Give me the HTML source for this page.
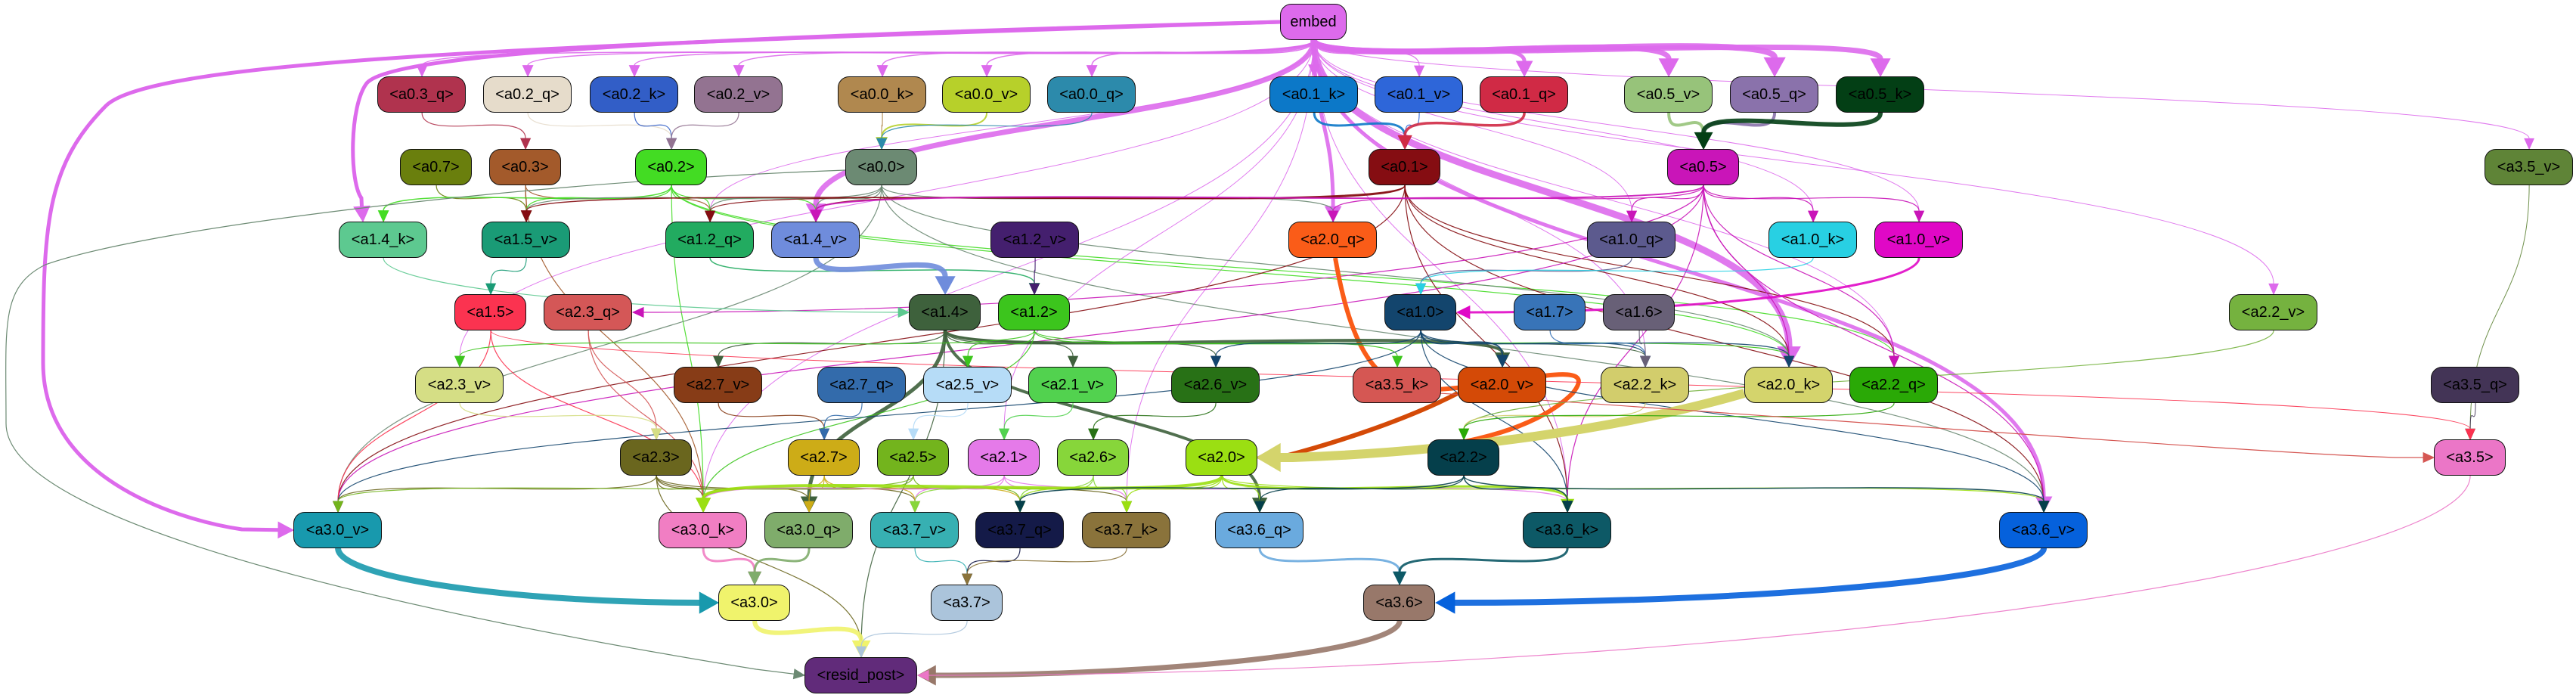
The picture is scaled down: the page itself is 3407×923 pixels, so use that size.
<!DOCTYPE html>
<html><head><meta charset="utf-8"><style>
html,body{margin:0;padding:0;background:#fff;}
#wrap{position:relative;width:3407px;height:923px;overflow:hidden;background:#fff;}
svg{position:absolute;left:0;top:0;}
.n{position:absolute;height:46px;border:1.6px solid #111;border-radius:15px;box-sizing:content-box;display:flex;align-items:center;justify-content:center;font-family:"Liberation Sans",sans-serif;font-size:20px;color:#000;white-space:nowrap;}
</style></head><body><div id="wrap">
<svg id="s" width="3407" height="923" viewBox="0 0 3407 923"></svg>
<div class="n" style="left:1693px;top:5px;width:86px;background:#dd6aec">embed</div>
<div class="n" style="left:499px;top:101px;width:115px;background:#b0334e">&lt;a0.3_q&gt;</div>
<div class="n" style="left:639px;top:101px;width:115px;background:#e6dccb">&lt;a0.2_q&gt;</div>
<div class="n" style="left:780px;top:101px;width:115px;background:#325ec7">&lt;a0.2_k&gt;</div>
<div class="n" style="left:918px;top:101px;width:115px;background:#937391">&lt;a0.2_v&gt;</div>
<div class="n" style="left:1108px;top:101px;width:115px;background:#b0884f">&lt;a0.0_k&gt;</div>
<div class="n" style="left:1246px;top:101px;width:115px;background:#b7d02a">&lt;a0.0_v&gt;</div>
<div class="n" style="left:1385px;top:101px;width:115px;background:#2c8aab">&lt;a0.0_q&gt;</div>
<div class="n" style="left:1679px;top:101px;width:115px;background:#0c78c8">&lt;a0.1_k&gt;</div>
<div class="n" style="left:1818px;top:101px;width:115px;background:#2e66d9">&lt;a0.1_v&gt;</div>
<div class="n" style="left:1957px;top:101px;width:115px;background:#d02a45">&lt;a0.1_q&gt;</div>
<div class="n" style="left:2148px;top:101px;width:115px;background:#97c37a">&lt;a0.5_v&gt;</div>
<div class="n" style="left:2288px;top:101px;width:115px;background:#8a72ab">&lt;a0.5_q&gt;</div>
<div class="n" style="left:2428px;top:101px;width:115px;background:#033f15">&lt;a0.5_k&gt;</div>
<div class="n" style="left:529px;top:197px;width:93px;background:#6a7f0d">&lt;a0.7&gt;</div>
<div class="n" style="left:647px;top:197px;width:93px;background:#a35a2b">&lt;a0.3&gt;</div>
<div class="n" style="left:840px;top:197px;width:93px;background:#43dc23">&lt;a0.2&gt;</div>
<div class="n" style="left:1118px;top:197px;width:93px;background:#6c8a73">&lt;a0.0&gt;</div>
<div class="n" style="left:1810px;top:197px;width:93px;background:#850d12">&lt;a0.1&gt;</div>
<div class="n" style="left:2205px;top:197px;width:93px;background:#c915b8">&lt;a0.5&gt;</div>
<div class="n" style="left:3286px;top:197px;width:115px;background:#5f8437">&lt;a3.5_v&gt;</div>
<div class="n" style="left:448px;top:293px;width:115px;background:#5dc990">&lt;a1.4_k&gt;</div>
<div class="n" style="left:637px;top:293px;width:115px;background:#1a9b76">&lt;a1.5_v&gt;</div>
<div class="n" style="left:880px;top:293px;width:115px;background:#22ab60">&lt;a1.2_q&gt;</div>
<div class="n" style="left:1020px;top:293px;width:115px;background:#6f8cdc">&lt;a1.4_v&gt;</div>
<div class="n" style="left:1310px;top:293px;width:115px;background:#441f6e">&lt;a1.2_v&gt;</div>
<div class="n" style="left:1704px;top:293px;width:115px;background:#fa5c18">&lt;a2.0_q&gt;</div>
<div class="n" style="left:2099px;top:293px;width:115px;background:#5c5a8e">&lt;a1.0_q&gt;</div>
<div class="n" style="left:2339px;top:293px;width:115px;background:#28d0e3">&lt;a1.0_k&gt;</div>
<div class="n" style="left:2479px;top:293px;width:115px;background:#e008c6">&lt;a1.0_v&gt;</div>
<div class="n" style="left:601px;top:389px;width:93px;background:#fb3350">&lt;a1.5&gt;</div>
<div class="n" style="left:719px;top:389px;width:115px;background:#d45757">&lt;a2.3_q&gt;</div>
<div class="n" style="left:1202px;top:389px;width:93px;background:#3e613c">&lt;a1.4&gt;</div>
<div class="n" style="left:1320px;top:389px;width:93px;background:#3cc51d">&lt;a1.2&gt;</div>
<div class="n" style="left:1831px;top:389px;width:93px;background:#13456d">&lt;a1.0&gt;</div>
<div class="n" style="left:2002px;top:389px;width:93px;background:#3874b8">&lt;a1.7&gt;</div>
<div class="n" style="left:2120px;top:389px;width:93px;background:#686077">&lt;a1.6&gt;</div>
<div class="n" style="left:2948px;top:389px;width:115px;background:#75b23f">&lt;a2.2_v&gt;</div>
<div class="n" style="left:549px;top:485px;width:115px;background:#d5de85">&lt;a2.3_v&gt;</div>
<div class="n" style="left:891px;top:485px;width:115px;background:#873c17">&lt;a2.7_v&gt;</div>
<div class="n" style="left:1081px;top:485px;width:115px;background:#336bab">&lt;a2.7_q&gt;</div>
<div class="n" style="left:1221px;top:485px;width:115px;background:#b6dcf7">&lt;a2.5_v&gt;</div>
<div class="n" style="left:1360px;top:485px;width:115px;background:#52d24f">&lt;a2.1_v&gt;</div>
<div class="n" style="left:1549px;top:485px;width:115px;background:#287116">&lt;a2.6_v&gt;</div>
<div class="n" style="left:1789px;top:485px;width:115px;background:#d55753">&lt;a3.5_k&gt;</div>
<div class="n" style="left:1928px;top:485px;width:115px;background:#d44a07">&lt;a2.0_v&gt;</div>
<div class="n" style="left:2117px;top:485px;width:115px;background:#d2cd6c">&lt;a2.2_k&gt;</div>
<div class="n" style="left:2307px;top:485px;width:115px;background:#d4d46c">&lt;a2.0_k&gt;</div>
<div class="n" style="left:2446px;top:485px;width:115px;background:#2aa906">&lt;a2.2_q&gt;</div>
<div class="n" style="left:3215px;top:485px;width:115px;background:#433456">&lt;a3.5_q&gt;</div>
<div class="n" style="left:820px;top:581px;width:93px;background:#6a661e">&lt;a2.3&gt;</div>
<div class="n" style="left:1042px;top:581px;width:93px;background:#cdac17">&lt;a2.7&gt;</div>
<div class="n" style="left:1160px;top:581px;width:93px;background:#73b41d">&lt;a2.5&gt;</div>
<div class="n" style="left:1280px;top:581px;width:93px;background:#e57ae9">&lt;a2.1&gt;</div>
<div class="n" style="left:1398px;top:581px;width:93px;background:#87d63a">&lt;a2.6&gt;</div>
<div class="n" style="left:1568px;top:581px;width:93px;background:#9bdf12">&lt;a2.0&gt;</div>
<div class="n" style="left:1888px;top:581px;width:93px;background:#053f4b">&lt;a2.2&gt;</div>
<div class="n" style="left:3219px;top:581px;width:93px;background:#eb76c7">&lt;a3.5&gt;</div>
<div class="n" style="left:388px;top:677px;width:115px;background:#1899ad">&lt;a3.0_v&gt;</div>
<div class="n" style="left:871px;top:677px;width:115px;background:#f17ec3">&lt;a3.0_k&gt;</div>
<div class="n" style="left:1011px;top:677px;width:115px;background:#7fac6b">&lt;a3.0_q&gt;</div>
<div class="n" style="left:1151px;top:677px;width:115px;background:#37b0b2">&lt;a3.7_v&gt;</div>
<div class="n" style="left:1290px;top:677px;width:115px;background:#141a48">&lt;a3.7_q&gt;</div>
<div class="n" style="left:1431px;top:677px;width:115px;background:#8a733b">&lt;a3.7_k&gt;</div>
<div class="n" style="left:1607px;top:677px;width:115px;background:#6aaade">&lt;a3.6_q&gt;</div>
<div class="n" style="left:2014px;top:677px;width:115px;background:#0d5966">&lt;a3.6_k&gt;</div>
<div class="n" style="left:2644px;top:677px;width:115px;background:#0561dc">&lt;a3.6_v&gt;</div>
<div class="n" style="left:950px;top:773px;width:93px;background:#f0f36c">&lt;a3.0&gt;</div>
<div class="n" style="left:1231px;top:773px;width:93px;background:#abc4db">&lt;a3.7&gt;</div>
<div class="n" style="left:1803px;top:773px;width:93px;background:#98786a">&lt;a3.6&gt;</div>
<div class="n" style="left:1064px;top:869px;width:147px;background:#612b7a">&lt;resid_post&gt;</div>
</div>
<script>
(function(){
var N={};
document.querySelectorAll('.n').forEach(function(d){
 var t=d.textContent.replace(/[<>]/g,'');
 var l=parseFloat(d.style.left),tp=parseFloat(d.style.top),w=parseFloat(d.style.width);
 N[t]={x:l+w/2+1.6,y:tp+24,w:w+3,c:d.style.backgroundColor};
});
var s=document.getElementById('s'),NS='http://www.w3.org/2000/svg';
function add(tag,at){var e=document.createElementNS(NS,tag);for(var k in at)e.setAttribute(k,at[k]);s.appendChild(e);return e;}
function arrow(px,py,ex,ey,c,w){
 var dx=ex-px,dy=ey-py,L=Math.hypot(dx,dy)||1;dx/=L;dy/=L;
 var al=12+w*1.6,hw=5+w*1.1;
 var bx=ex-dx*al,by=ey-dy*al;
 add('polygon',{points:ex+','+ey+' '+(bx-dy*hw)+','+(by+dx*hw)+' '+(bx+dy*hw)+','+(by-dx*hw),fill:c,stroke:c,'stroke-width':1});
 return [bx,by];
}
function E(a,b,w,c,side){
 var A=N[a],B=N[b];c=c||A.c;w=w||1.2;
 var sx=A.x,sy=A.y+24,ex,ey,c2x,c2y,px,py;
 if(side=='l'||side=='r'){
  ex=B.x+(side=='l'?-B.w/2:B.w/2);ey=B.y;
  var off=(side=='l'?-1:1);
  px=ex+off*60;py=ey;
 } else {ex=B.x;ey=B.y-24;px=ex;py=ey-40;}
 var ab=arrow(px,py,ex,ey,c,w);
 var dy=Math.max(40,(ab[1]-sy)*0.5);
 if(side=='l'||side=='r'){c2x=ab[0]+(side=='l'?-1:1)*Math.abs(ab[0]-sx)*0.5;c2y=ab[1];}
 else{c2x=ab[0];c2y=ab[1]-dy;}
 add('path',{d:'M'+sx+','+sy+' C'+sx+','+(sy+dy)+' '+c2x+','+c2y+' '+ab[0]+','+ab[1],fill:'none',stroke:c,'stroke-width':w,'stroke-opacity':0.9});
}
function P(d,c,w,px,py,ex,ey){var ab=arrow(px,py,ex,ey,c,w);add('path',{d:d+' L'+ab[0]+','+ab[1],fill:'none',stroke:c,'stroke-width':w});}
var PK='#dd6aec';
['a0.3_q','a0.2_q','a0.2_k','a0.2_v','a0.0_k','a0.0_v','a0.0_q'].forEach(function(t){E('embed',t,1.5);});
E('embed','a0.1_k',2);E('embed','a0.1_v',1.2);E('embed','a0.1_q',5);
E('embed','a0.5_v',7);E('embed','a0.5_q',8);E('embed','a0.5_k',7);
E('embed','a1.4_v',7);E('embed','a2.0_q',5);E('embed','a2.0_k',9);E('embed','a3.6_v',5);
['a1.0_q','a1.0_k','a1.0_v','a2.2_v','a3.5_v','a2.3_v','a3.0_k','a2.1','a3.7_k','a3.6_k','a2.2_k','a2.2_q','a1.2_q'].forEach(function(t){E('embed',t,1);});
P('M1693,29 C900,50 520,70 485,110 C 462,140 462,240 478,262',PK,5,476,240,480,293);
P('M1693,29 C700,60 200,80 140,140 C 60,220 57,300 57,480 C 57,640 250,690 320,700',PK,5,300,700,388,701);
E('a0.3_q','a0.3',1.2);E('a0.2_q','a0.2',1.2);E('a0.2_k','a0.2',1.2);E('a0.2_v','a0.2',1.2);
E('a0.0_k','a0.0',1.2);E('a0.0_v','a0.0',2);E('a0.0_q','a0.0',1.2);
E('a0.1_k','a0.1',3);E('a0.1_v','a0.1',1.2);E('a0.1_q','a0.1',3.5);
E('a0.5_v','a0.5',4);E('a0.5_q','a0.5',4);E('a0.5_k','a0.5',6);
E('a3.5_v','a3.5',1);E('a3.5_q','a3.5',1);
E('a0.7','a1.5_v');E('a0.3','a1.5_v');E('a0.3','a1.2_q');E('a0.3','a3.0_k');
E('a0.2','a1.4_k',1.5);E('a0.2','a1.5_v');E('a0.2','a1.2_q');E('a0.2','a1.4_v');E('a0.2','a2.0_k');E('a0.2','a2.2_q');E('a0.2','a3.0_k');
E('a0.0','a1.5_v');E('a0.0','a1.2_q');E('a0.0','a1.4_v');E('a0.0','a2.0_q');E('a0.0','a2.0_k');E('a0.0','a3.6_v');E('a0.0','a3.0_v');
P('M1118,225 C700,240 200,300 60,350 C0,380 8,430 8,560 C8,700 600,820 1000,885','#6c8a73',1.2,1000,885,1064,893);
E('a0.1','a1.5_v',1.5);E('a0.1','a1.4_v',1.5);E('a0.1','a1.2_q',1.2);E('a0.1','a2.0_k');E('a0.1','a2.2_q');E('a0.1','a3.6_v');E('a0.1','a3.6_k');E('a0.1','a3.0_v');
E('a0.5','a1.4_v',2);E('a0.5','a2.0_q');E('a0.5','a1.0_q');E('a0.5','a1.0_k');E('a0.5','a1.0_v');E('a0.5','a2.3_q',1.2,null,'r');E('a0.5','a3.0_v');E('a0.5','a2.2_q');E('a0.5','a3.6_v');E('a0.5','a3.6_k');E('a0.5','a2.0_k');
E('a1.4_k','a1.4',1.2,null,'l');E('a1.5_v','a1.5');E('a1.2_q','a1.2',1.5);E('a1.4_v','a1.4',7);E('a1.2_v','a1.2');
P('M1766,341 C1790,480 1830,520 1900,515 C2000,510 2120,470 2080,520 C2000,600 1800,600 1720,605','#fa5c18',6,1700,605,1662,605);
E('a1.0_q','a1.0');E('a1.0_k','a1.0');E('a1.0_v','a1.0',3,null,'r');
E('a1.5','a3.0_k');E('a1.5','a3.0_v');E('a1.5','a3.5',1);E('a2.3_q','a2.3');E('a2.3_q','a3.0_k');
E('a1.4','a3.0_q',5);E('a1.4','a3.6_q',4);E('a1.4','a2.0_v',4);E('a1.4','a2.7_v');E('a1.4','a2.1_v');E('a1.4','a2.6_v');E('a1.4','a2.2_k');E('a1.4','resid_post');
E('a1.2','a2.5_v');E('a1.2','a2.3_v');E('a1.2','a3.5_k');E('a1.2','a2.0_k');E('a1.2','a3.0_k');
E('a1.0','a2.0_v',2);E('a1.0','a2.6_v');E('a1.0','a3.0_v');E('a1.0','a2.2_k');E('a1.0','a2.0_k');E('a1.0','a3.6_v');E('a1.0','a3.6_k');
E('a1.7','a2.2_k');E('a1.6','a2.2_k');E('a2.2_v','a2.2');
E('a2.3_v','a2.3');E('a2.7_v','a2.7');E('a2.7_q','a2.7');E('a2.5_v','a2.5');E('a2.1_v','a2.1');E('a2.6_v','a2.6');
P('M1928,520 C1850,560 1750,590 1700,603','#d44a07',6,1700,605,1662,605);
P('M2307,520 C2100,580 1850,600 1710,605','#d4d46c',12,1700,605,1662,605);
E('a2.2_k','a2.2');E('a2.2_q','a2.2');
P('M1904,520 C2500,560 3000,600 3170,605','#d55753',1.2,3180,605,3219,605);
['a3.0_v','a3.0_k','a3.0_q','a3.7_v','a3.7_k','resid_post'].forEach(function(t){E('a2.3',t);});
['a3.0_k','a3.0_q','a3.7_v','a3.7_q'].forEach(function(t){E('a2.7',t);});
['a3.0_v','a3.7_q','a3.0_k'].forEach(function(t){E('a2.5',t);});
['a3.0_k','a3.7_v','a3.7_k','a3.6_k'].forEach(function(t){E('a2.1',t);});
['a3.7_q','a3.7_v','a3.7_k'].forEach(function(t){E('a2.6',t);});
E('a2.0','a3.0_k',4);E('a2.0','a3.6_k',3);E('a2.0','a3.6_q');E('a2.0','a3.7_q');E('a2.0','a3.7_k');E('a2.0','a3.6_v');
E('a2.2','a3.6_k',1.5);E('a2.2','a3.7_q',1.5);E('a2.2','a3.6_v',1.5);E('a2.2','a3.6_q');
E('a3.0_v','a3.0',8,null,'l');E('a3.0_k','a3.0',3);E('a3.0_q','a3.0',3);
E('a3.7_v','a3.7');E('a3.7_q','a3.7');E('a3.7_k','a3.7');
E('a3.6_q','a3.6',3);E('a3.6_k','a3.6',3);E('a3.6_v','a3.6',8,null,'r');
E('a3.0','resid_post',6);E('a3.7','resid_post');E('a3.6','resid_post',7,null,'r');E('a3.5','resid_post',1.2,null,'r');
})();
</script>
</body></html>
